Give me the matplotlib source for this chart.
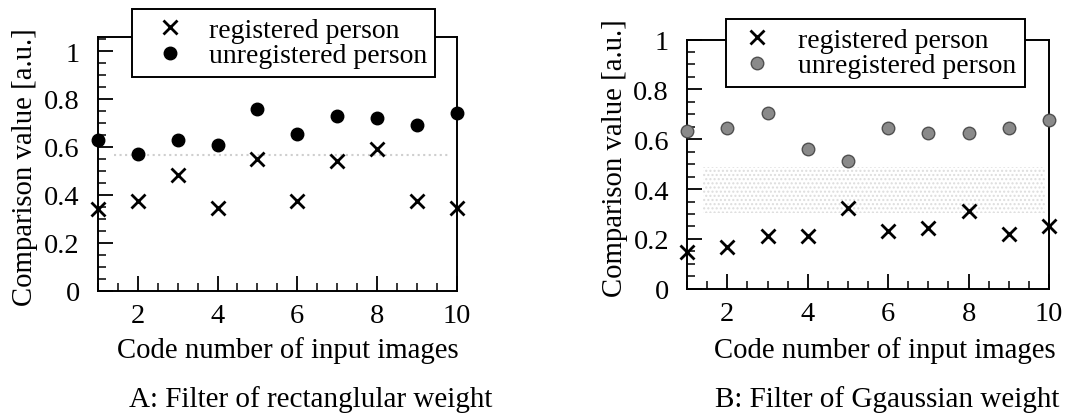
import matplotlib
matplotlib.use("Agg")
import matplotlib.pyplot as plt
from matplotlib.ticker import MultipleLocator

plt.rcParams['font.family'] = ['Liberation Serif', 'DejaVu Serif']
plt.rcParams['hatch.linewidth'] = 1.0

codes = [1, 2, 3, 4, 5, 6, 7, 8, 9, 10]

# A: rectangular weight filter
rect_registered = [0.34, 0.375, 0.485, 0.345, 0.55, 0.375, 0.54, 0.59, 0.375, 0.345]
rect_unregistered = [0.63, 0.57, 0.63, 0.61, 0.76, 0.655, 0.73, 0.72, 0.69, 0.74]

# B: gaussian weight filter
gauss_registered = [0.147, 0.167, 0.21, 0.21, 0.325, 0.231, 0.243, 0.314, 0.221, 0.25]
gauss_unregistered = [0.635, 0.646, 0.706, 0.561, 0.511, 0.646, 0.626, 0.626, 0.646, 0.678]

series_labels = ['registered person', 'unregistered person']
captions = ['A: Filter of rectanglular weight', 'B: Filter of Ggaussian weight']

fig = plt.figure(figsize=(10.77, 4.14), dpi=100)
ax1 = fig.add_axes([0.091, 0.295, 0.333, 0.613])
ax2 = fig.add_axes([0.638, 0.300, 0.336, 0.602])


def style_axes(ax, ytop):
    ax.set_xlim(1, 10)
    ax.set_ylim(0, ytop)
    ax.xaxis.set_major_locator(MultipleLocator(2))
    ax.xaxis.set_minor_locator(MultipleLocator(0.5))
    ax.yaxis.set_minor_locator(MultipleLocator(0.05))
    ax.set_yticks([0, 0.2, 0.4, 0.6, 0.8, 1.0])
    ax.set_yticklabels(['0', '0.2', '0.4', '0.6', '0.8', '1'])
    ax.tick_params(which='major', direction='in', length=11, width=1.3, labelsize=20.5)
    ax.tick_params(which='minor', direction='in', length=6, width=1.1)
    ax.tick_params(axis='y', pad=13)
    ax.tick_params(axis='x', pad=9)
    for s in ax.spines.values():
        s.set_linewidth(1.4)
    ax.set_xlabel('Code number of input images', fontsize=20.7)
    ax.set_ylabel('Comparison value [a.u.]', fontsize=20.7)


# faint scan artefacts: threshold line / band
ax1.plot([1.4, 9.8], [0.565, 0.565], ls=':', color='#cfcfcf', lw=1.5, zorder=1)
ax2.fill_between([1.4, 9.9], 0.305, 0.49, facecolor='none', edgecolor='#dddddd',
                 hatch='....', lw=0, zorder=1)

ax1.plot(codes, rect_registered, 'x', color='black', ms=10, mew=2, clip_on=False,
         label=series_labels[0], zorder=3)
ax1.plot(codes, rect_unregistered, 'o', color='black', ms=9, clip_on=False,
         label=series_labels[1], zorder=3)

ax2.plot(codes, gauss_registered, 'x', color='black', ms=10, mew=2, clip_on=False,
         label=series_labels[0], zorder=3)
ax2.plot(codes, gauss_unregistered, 'o', color='#8a8a8a', mec='#505050', mew=1,
         ms=9, clip_on=False, label=series_labels[1], zorder=3)

style_axes(ax1, 1.058)
style_axes(ax2, 1.0)

ax1.yaxis.set_label_coords(-0.167, 0.49)
ax2.yaxis.set_label_coords(-0.163, 0.53)
ax1.xaxis.set_label_coords(0.529, -0.177)
ax2.xaxis.set_label_coords(0.547, -0.189)

# legend boxes sit on top of the upper spine
legend_opts = [(ax1, (0.095, 1.11), 2.16, 0.3),
               (ax2, (0.107, 1.082), 1.65, 0.65)]
for ax, anchor, hlen, hpad in legend_opts:
    leg = ax.legend(loc='upper left', bbox_to_anchor=anchor, fontsize=20,
                    frameon=True, fancybox=False, framealpha=1, edgecolor='black',
                    labelspacing=0.0, handletextpad=hpad, borderpad=0.3,
                    handlelength=hlen, borderaxespad=0)
    leg.get_frame().set_linewidth(1.4)
    leg.set_zorder(5)

fig.text(311 / 1077, 0.034, captions[0], ha='center', va='center', fontsize=21)
fig.text(887 / 1077, 0.034, captions[1], ha='center', va='center', fontsize=21)

fig.savefig('out.png', dpi=100)
